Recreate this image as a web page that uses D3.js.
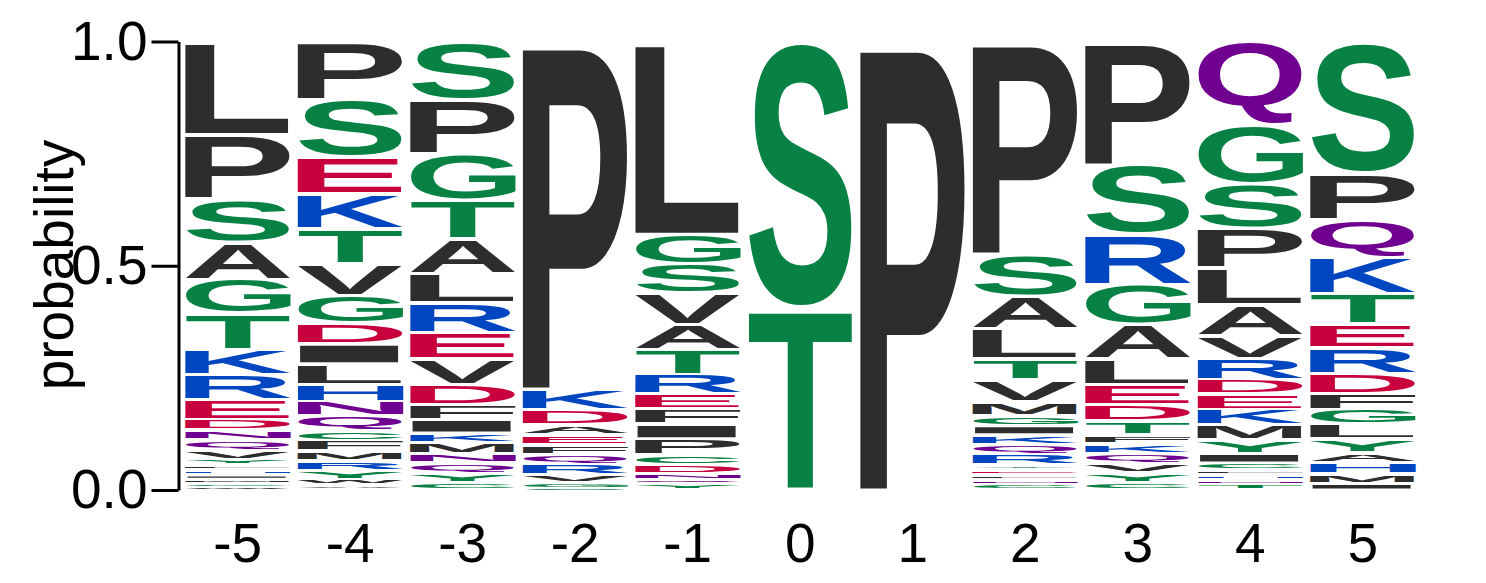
<!DOCTYPE html>
<html lang="en">
<head>
    <meta charset="UTF-8">
    <title>Sequence Logo</title>
    <style>
        body {
            margin: 0;
            background: #fff;
        }
        svg {
            display: block;
        }
        .tick text, .axis-label {
            font-family: "Liberation Sans", Arial, Helvetica, sans-serif;
            font-size: 55px;
            fill: #000;
        }
    </style>
    <script src="https://d3js.org/d3.v7.min.js"></script>
</head>
<body>
    <svg id="logo" width="1486" height="583"></svg>
    <script>
        // positions relative to the site
        const positions = [-5, -4, -3, -2, -1, 0, 1, 2, 3, 4, 5];

        // letters of each column, listed top to bottom
        const columnLetters = [
            "LPSAGTKREDNQVYFHIMCW",
            "PSEKTVGDILHNQCFMRYWA",
            "SPGTALREVDFIKMNQYC",
            "PKDAEFQRVGS",
            "LGSVATREFIPCDNQY",
            "ST",
            "P",
            "PSALTVMGIKQRYEFNC",
            "PSRGALEDTFKQVYC",
            "QGSPLAVRDEKMYICFHNT",
            "SPQKTERDFGLYAHMI"
        ];

        // probabilities, same order as the letters
        const columnProbs = [
            [0.207, 0.144, 0.096, 0.083, 0.077, 0.079, 0.057, 0.055, 0.045, 0.023, 0.022, 0.022, 0.022, 0.012, 0.011, 0.011, 0.010, 0.010, 0.008, 0.006],
            [0.130, 0.128, 0.082, 0.078, 0.077, 0.071, 0.063, 0.045, 0.045, 0.045, 0.039, 0.032, 0.032, 0.023, 0.023, 0.022, 0.021, 0.021, 0.012, 0.011],
            [0.129, 0.121, 0.104, 0.086, 0.077, 0.066, 0.066, 0.058, 0.057, 0.045, 0.033, 0.031, 0.022, 0.024, 0.021, 0.021, 0.022, 0.017],
            [0.775, 0.046, 0.034, 0.022, 0.021, 0.022, 0.022, 0.023, 0.019, 0.013, 0.003],
            [0.430, 0.067, 0.065, 0.070, 0.055, 0.055, 0.044, 0.033, 0.034, 0.033, 0.036, 0.021, 0.021, 0.013, 0.010, 0.013],
            [0.596, 0.404],
            [1.000],
            [0.474, 0.094, 0.073, 0.067, 0.045, 0.049, 0.031, 0.023, 0.021, 0.022, 0.022, 0.023, 0.011, 0.011, 0.011, 0.011, 0.012],
            [0.274, 0.156, 0.112, 0.089, 0.077, 0.056, 0.046, 0.036, 0.031, 0.019, 0.022, 0.021, 0.022, 0.022, 0.017],
            [0.186, 0.131, 0.099, 0.089, 0.082, 0.069, 0.050, 0.047, 0.033, 0.034, 0.035, 0.032, 0.031, 0.022, 0.015, 0.010, 0.011, 0.011, 0.013],
            [0.293, 0.104, 0.083, 0.082, 0.067, 0.054, 0.057, 0.045, 0.035, 0.033, 0.032, 0.031, 0.022, 0.025, 0.022, 0.015]
        ];

        // chemistry colour groups
        const groupNames = ["polar", "neutral", "basic", "acidic", "hydrophobic"];
        const groupLetters = ["GSTYC", "NQ", "KRH", "DE", "AVLIPWFM"];
        const groupColors = ["#088244", "#700090", "#0046c0", "#c8003e", "#2d2d2d"];

        const svg = d3.select("#logo");
        const letterFont = "bold 400px 'Liberation Sans', Arial, Helvetica, sans-serif";

        const x = d3.scaleBand()
            .domain(positions)
            .range([181.5, 181.5 + 112.5 * positions.length]);

        const y = d3.scaleLinear()
            .domain([0, 1])
            .range([490, 41.5]);

        const color = d3.scaleOrdinal()
            .domain(groupNames)
            .range(groupColors);

        const groupOf = ch => groupNames[groupLetters.findIndex(s => s.includes(ch))];

        // ink bounds of each glyph, measured once on a canvas
        const ctx = document.createElement("canvas").getContext("2d");
        ctx.font = letterFont;
        const inkCache = {};
        function ink(ch) {
            if (!inkCache[ch]) {
                const m = ctx.measureText(ch);
                inkCache[ch] = {
                    left: m.actualBoundingBoxLeft,
                    right: m.actualBoundingBoxRight,
                    ascent: m.actualBoundingBoxAscent,
                    descent: m.actualBoundingBoxDescent
                };
            }
            return inkCache[ch];
        }

        // build stacked rows: top of each column sits at 1.0
        const glyphs = [];
        positions.forEach((pos, i) => {
            let top = 1;
            columnLetters[i].split("").forEach((ch, j) => {
                const p = columnProbs[i][j];
                glyphs.push({ pos, ch, y1: top, y0: top - p });
                top -= p;
            });
        });

        const letterWidth = x.bandwidth() * 0.945;
        const gap = 1.6;

        svg.append("g")
            .attr("class", "letters")
            .selectAll("text")
            .data(glyphs)
            .enter().append("text")
            .style("font", letterFont)
            .attr("fill", d => color(groupOf(d.ch)))
            .attr("transform", d => {
                const b = ink(d.ch);
                const x0 = x(d.pos) + (x.bandwidth() - letterWidth) / 2;
                const boxTop = y(d.y1), boxBottom = y(d.y0);
                const h = Math.max(boxBottom - boxTop - 2 * gap, 0.8);
                const y0 = (boxTop + boxBottom) / 2 - h / 2;
                const sx = letterWidth / (b.left + b.right);
                const sy = h / (b.ascent + b.descent);
                return `translate(${x0 + b.left * sx},${y0 + b.ascent * sy}) scale(${sx},${sy})`;
            })
            .text(d => d.ch);

        // y axis
        const yAxis = svg.append("g")
            .attr("transform", "translate(178.5,0)")
            .call(d3.axisLeft(y)
                .tickValues([0, 0.5, 1])
                .tickFormat(d3.format(".1f"))
                .tickSize(27)
                .tickSizeOuter(0)
                .tickPadding(4));
        yAxis.selectAll("path, line")
            .attr("stroke", "#000")
            .attr("stroke-width", 3);
        yAxis.selectAll("text").attr("font-size", null).attr("font-family", null);

        // x axis, labels only
        const xAxis = svg.append("g")
            .attr("transform", "translate(0,490)")
            .call(d3.axisBottom(x)
                .tickSize(0)
                .tickPadding(33));
        xAxis.select(".domain").remove();
        xAxis.selectAll("text").attr("font-size", null).attr("font-family", null);

        svg.append("text")
            .attr("class", "axis-label")
            .attr("transform", "translate(73,265) rotate(-90)")
            .attr("text-anchor", "middle")
            .text("probability");
    </script>
</body>
</html>
